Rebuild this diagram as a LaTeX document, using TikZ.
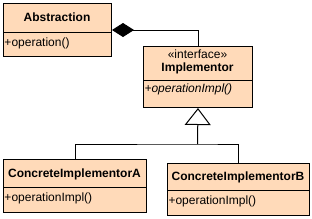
\documentclass[tikz,border=0pt]{standalone}
\usepackage{fontspec}
\setmainfont{Liberation Sans}
\usetikzlibrary{arrows.meta}
\definecolor{peach}{RGB}{255,218,185}
\begin{document}
\begin{tikzpicture}[x=1pt,y=-1pt,line width=1pt,
  cls/.style={draw=black,fill=peach,rectangle,inner sep=0pt,anchor=north west},
  txt/.style={inner sep=0pt,font=\fontsize{12}{14}\selectfont},
  ttl/.style={inner sep=0pt,font=\fontsize{12}{14}\selectfont\bfseries},
  opr/.style={inner sep=0pt,anchor=west,font=\fontsize{12}{14}\selectfont},
  compo/.style={{Diamond[length=22pt,width=14pt,fill=black]}-},
  gen/.style={-{Triangle[open,length=17pt,width=26pt,fill=white]}}]
\useasboundingbox (0,0) rectangle (312,218);
% Abstraction
\node[cls,minimum width=108pt,minimum height=53pt] (abs) at (3,3) {};
\draw (3,32) -- (111,32);
\node[ttl] (absname) at (57,17.5) {Abstraction};
\node[opr] (absop) at (4,43) {+operation()};
% Implementor
\node[cls,minimum width=109pt,minimum height=61pt] (impl) at (143,46) {};
\draw (143,80) -- (252,80);
\node[txt] (implst) at (197.5,54) {«interface»};
\node[ttl] (implname) at (197.5,68) {Implementor};
\node[opr,font=\fontsize{12}{14}\selectfont\itshape] (implop) at (144,89) {+operationImpl()};
% ConcreteImplementorA
\node[cls,minimum width=143pt,minimum height=53pt] (ca) at (3,159) {};
\draw (3,187) -- (146,187);
\node[ttl] (caname) at (74.5,174) {ConcreteImplementorA};
\node[opr] (caop) at (4,198) {+operationImpl()};
% ConcreteImplementorB
\node[cls,minimum width=142pt,minimum height=52pt] (cb) at (167,163) {};
\draw (167,190) -- (309,190);
\node[ttl] (cbname) at (238,177) {ConcreteImplementorB};
\node[opr] (cbop) at (168,201) {+operationImpl()};
% connectors
\draw[compo] (abs.east) -| (impl.north);
\coordinate (j) at (197.5,144);
\draw[gen] (j) -- (impl.south);
\draw (ca.north) |- (j) -| (cb.north);
\end{tikzpicture}
\end{document}
